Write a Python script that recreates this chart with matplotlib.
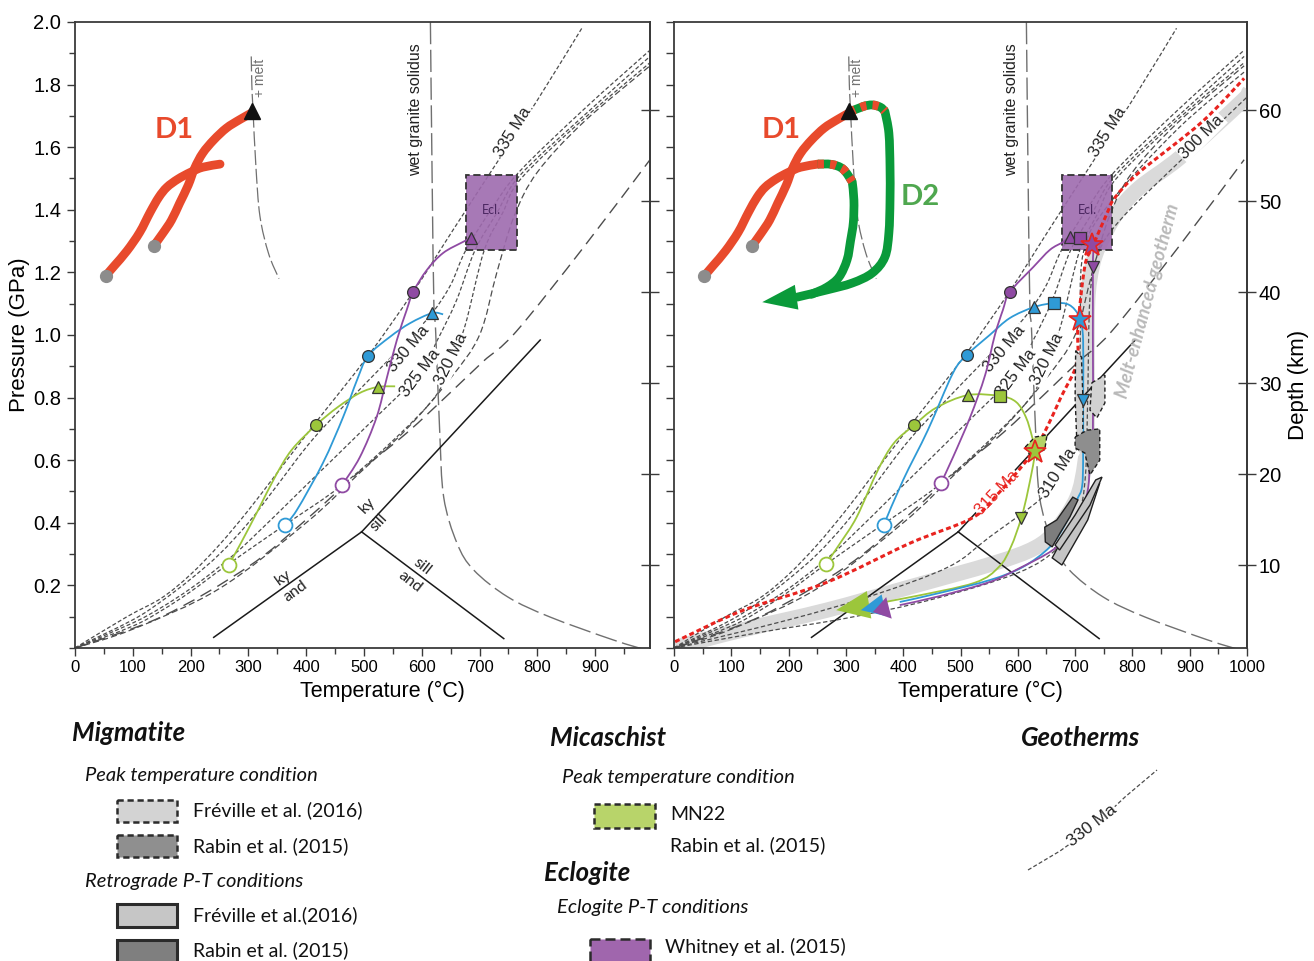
from __future__ import annotations

import matplotlib

matplotlib.use("Agg")
import matplotlib.pyplot as plt
from matplotlib.colors import to_rgba
from matplotlib.patches import PathPatch, Polygon, Rectangle
from matplotlib.path import Path
from matplotlib.ticker import MultipleLocator


plt.rcParams["font.family"] = ["Liberation Sans", "DejaVu Sans"]
TEXT_FONT = ["Lato", "DejaVu Sans"]

OUTPUT_PATH = "out.png"

# --- geotherms: temperature (°C) / pressure (GPa) ---
GEO335_T = [0, 90, 150, 200, 250, 300, 350, 413, 507, 585, 654, 716, 800, 877]
GEO335_P = [0, 0.10, 0.16, 0.235, 0.33, 0.44, 0.56, 0.712, 0.933, 1.137, 1.335, 1.511, 1.75, 1.98]
GEO330_T = [0, 100, 150, 200, 250, 300, 350, 413, 500, 574, 618, 650, 676, 720, 768, 880, 995]
GEO330_P = [0, 0.09, 0.15, 0.22, 0.30, 0.40, 0.52, 0.67, 0.84, 0.98, 1.07, 1.16, 1.27, 1.40, 1.52, 1.72, 1.91]
GEO325_T = [0, 100, 150, 200, 250, 300, 400, 500, 595, 626, 660, 692, 730, 770, 880, 995]
GEO325_P = [0, 0.08, 0.13, 0.19, 0.26, 0.34, 0.52, 0.70, 0.875, 0.98, 1.11, 1.27, 1.39, 1.51, 1.70, 1.89]
GEO320_T = [0, 100, 150, 200, 263, 363, 462, 560, 626, 651, 675, 708, 740, 772, 880, 995]
GEO320_P = [0, 0.07, 0.12, 0.18, 0.265, 0.393, 0.52, 0.68, 0.81, 0.92, 1.03, 1.27, 1.39, 1.50, 1.69, 1.87]
GEO_LOW_T = [0, 100, 250, 400, 493, 574, 649, 700, 730, 760, 800, 880, 995]
GEO_LOW_P = [0, 0.06, 0.19, 0.40, 0.56, 0.70, 0.86, 1.00, 1.20, 1.38, 1.52, 1.68, 1.86]
GEO_LONG_T = [0, 150, 300, 400, 493, 574, 649, 706, 763, 880, 995]
GEO_LONG_P = [0, 0.10, 0.26, 0.41, 0.565, 0.687, 0.815, 0.915, 1.01, 1.28, 1.56]

# right panel only (melt-enhanced geotherms)
GEO315_T = [2, 120, 267, 412, 520, 564, 607, 627, 647, 675, 703, 705, 717, 730, 756, 770, 812, 921, 995]
GEO315_P = [0.02, 0.12, 0.21, 0.335, 0.415, 0.49, 0.58, 0.63, 0.69, 0.80, 0.91, 1.03, 1.22, 1.28, 1.39, 1.44,
            1.52, 1.68, 1.82]
GEO310_T = [0, 200, 350, 480, 551, 642, 670, 690, 705, 709, 714, 760, 880, 995]
GEO310_P = [0, 0.09, 0.17, 0.26, 0.355, 0.48, 0.56, 0.60, 0.67, 0.98, 1.26, 1.42, 1.66, 1.84]
GEO300_T = [0, 150, 300, 450, 600, 670, 705, 718, 722, 726, 740, 780, 880, 1000]
GEO300_P = [0, 0.05, 0.095, 0.155, 0.24, 0.32, 0.42, 0.55, 0.80, 1.12, 1.26, 1.37, 1.55, 1.76]
MELT_BAND_T = [-10, 0, 120, 267, 412, 557, 630, 667, 703, 717, 721, 721, 722, 730, 743, 773, 812, 885, 993, 1005]
MELT_BAND_P = [-0.02, 0.0, 0.058, 0.121, 0.195, 0.27, 0.32, 0.377, 0.48, 0.59, 0.70, 0.91, 1.11, 1.22, 1.29,
               1.39, 1.47, 1.57, 1.75, 1.78]

# reactions
SOLIDUS_T = [615, 618, 621, 624, 631, 638, 661, 690, 749, 822, 931, 995]
SOLIDUS_P = [2.0, 1.5, 1.1, 1.016, 0.696, 0.482, 0.335, 0.249, 0.163, 0.099, 0.026, -0.01]
MELT_IN_T = [305, 306, 308, 313, 320, 335, 353]
MELT_IN_P = [1.89, 1.80, 1.72, 1.54, 1.38, 1.26, 1.18]
KY_SILL_T = [496, 805]
KY_SILL_P = [0.371, 0.984]
KY_AND_T = [496, 240]
KY_AND_P = [0.371, 0.034]
AND_SILL_T = [496, 742]
AND_SILL_P = [0.371, 0.030]

ECL_T = [677, 765]
ECL_P = [1.27, 1.51]

# D1 / D2 paths
D1A_T = [53, 68, 90, 112, 130, 145, 159, 178, 200, 221, 251]
D1A_P = [1.189, 1.221, 1.269, 1.328, 1.392, 1.440, 1.472, 1.498, 1.520, 1.536, 1.546]
D1B_T = [136, 152, 167, 181, 196, 207, 221, 240, 262, 284, 306]
D1B_P = [1.284, 1.325, 1.367, 1.421, 1.479, 1.533, 1.581, 1.623, 1.661, 1.687, 1.710]
D1_PEAK_T = 306
D1_PEAK_P = 1.715
D2_INNER_STRIPE_T = [251, 275, 295, 311]
D2_INNER_STRIPE_P = [1.546, 1.545, 1.53, 1.49]
D2_INNER_T = [311, 314, 313, 308, 302, 288, 267, 240]
D2_INNER_P = [1.49, 1.431, 1.36, 1.30, 1.24, 1.185, 1.153, 1.13]
D2_OUTER_STRIPE_T = [306, 330, 346, 360, 368]
D2_OUTER_STRIPE_P = [1.712, 1.73, 1.735, 1.728, 1.715]
D2_OUTER_T = [368, 375, 377, 377, 375, 368, 346, 311, 267, 215, 154]
D2_OUTER_P = [1.715, 1.645, 1.537, 1.431, 1.326, 1.249, 1.198, 1.166, 1.144, 1.121, 1.105]

# sample P-T paths, left panel (prograde)
L_GREEN_T = [266, 287, 317, 346, 375, 417, 455, 493, 524, 554]
L_GREEN_P = [0.265, 0.335, 0.441, 0.546, 0.633, 0.712, 0.77, 0.815, 0.834, 0.836]
L_BLUE_T = [363, 384, 429, 464, 488, 507, 545, 580, 618, 637]
L_BLUE_P = [0.393, 0.441, 0.591, 0.738, 0.856, 0.933, 0.994, 1.038, 1.07, 1.066]
L_PURPLE_T = [462, 493, 522, 540, 557, 574, 585, 609, 637, 671, 685]
L_PURPLE_P = [0.52, 0.61, 0.738, 0.866, 0.984, 1.08, 1.137, 1.208, 1.262, 1.297, 1.31]

# sample P-T paths, right panel (full loops)
R_GREEN_T = [265, 290, 319, 356, 384, 419, 457, 513, 569, 597, 614, 625, 630, 618, 606, 588, 567, 524, 414, 340, 283]
R_GREEN_P = [0.268, 0.335, 0.419, 0.569, 0.655, 0.712, 0.767, 0.808, 0.805, 0.786, 0.738, 0.674, 0.626, 0.505,
             0.415, 0.323, 0.259, 0.208, 0.163, 0.138, 0.121]
R_BLUE_T = [366, 400, 443, 487, 511, 551, 586, 628, 663, 686, 700, 709, 714, 714, 714, 712, 703, 682, 656, 609,
            551, 464, 394, 326]
R_BLUE_P = [0.393, 0.537, 0.696, 0.879, 0.936, 1.0, 1.054, 1.089, 1.102, 1.099, 1.08, 1.048, 0.984, 0.792, 0.60,
            0.514, 0.473, 0.393, 0.323, 0.259, 0.217, 0.176, 0.147, 0.121]
R_PURPLE_T = [466, 487, 517, 543, 560, 574, 586, 627, 656, 679, 691, 709, 730, 731, 731, 731, 726, 723, 714, 696,
              661, 604, 551, 464, 394, 347]
R_PURPLE_P = [0.527, 0.61, 0.738, 0.872, 1.0, 1.08, 1.137, 1.217, 1.272, 1.297, 1.313, 1.31, 1.288, 1.217, 1.006,
              0.665, 0.60, 0.514, 0.45, 0.377, 0.313, 0.256, 0.211, 0.166, 0.137, 0.115]

# marker kind -> index in the path
L_GREEN_MARKS = [("open", 0), ("circle", 5), ("tri", 8)]
L_BLUE_MARKS = [("open", 0), ("circle", 5), ("tri", 8)]
L_PURPLE_MARKS = [("open", 0), ("circle", 6), ("tri", 10)]
R_GREEN_MARKS = [("open", 0), ("circle", 5), ("tri", 7), ("square", 8), ("star", 12), ("dtri", 14)]
R_BLUE_MARKS = [("open", 0), ("circle", 4), ("tri", 7), ("square", 8), ("star", 11), ("dtri", 13)]
R_PURPLE_MARKS = [("open", 0), ("circle", 6), ("tri", 10), ("square", 11), ("star", 12), ("dtri", 13)]

# migmatite / micaschist P-T fields (right panel)
MIG_PEAK_FREVILLE = [[(729, 0.847), (752, 0.872), (752, 0.783), (738, 0.735), (726, 0.76)],
                     [(701, 0.95), (711, 0.93), (714, 0.78), (713, 0.66), (703, 0.66), (700, 0.80)]]
MIG_PEAK_RABIN = [[(700, 0.674), (721, 0.696), (743, 0.70), (743, 0.60), (726, 0.553), (717, 0.623), (700, 0.639)]]
MIG_RETRO_FREVILLE = [[(660, 0.288), (677, 0.265), (722, 0.409), (743, 0.527), (731, 0.511), (691, 0.393)],
                      [(665, 0.329), (673, 0.313), (726, 0.457), (747, 0.546), (736, 0.537), (700, 0.425)]]
MIG_RETRO_RABIN = [[(647, 0.386), (668, 0.409), (696, 0.482), (705, 0.473), (691, 0.419), (674, 0.368),
                    (660, 0.323), (648, 0.339)]]
MICASCHIST_PEAK = [[(613, 0.642), (630, 0.674), (651, 0.681), (647, 0.633), (621, 0.617)]]

# colours
GEO_GREY = "#4d4d4d"
SPINE = "#3a3a3a"
RED = "#e8231f"
D1_RED = "#e84a2c"
D2_GREEN = "#0a9a3a"
D2_TEXT = "#4fa74f"
GREEN = "#9cc63b"
BLUE = "#2f9ad6"
PURPLE = "#8f4aa3"
ECL_PURPLE = "#9e6aae"
BAND_GREY = "#dadada"


def p_to_depth(p):
    return p * 34.4 + 0.88


def depth_to_p(d):
    return (d - 0.88) / 34.4


def smooth_curve(ax, temps, press, **style):
    # Catmull-Rom style Bezier through the read points
    pts = list(zip(temps, press))
    verts = [pts[0]]
    codes = [Path.MOVETO]
    n = len(pts)
    for i in range(n - 1):
        x0, y0 = pts[max(i - 1, 0)]
        x1, y1 = pts[i]
        x2, y2 = pts[i + 1]
        x3, y3 = pts[min(i + 2, n - 1)]
        verts += [(x1 + (x2 - x0) / 6, y1 + (y2 - y0) / 6), (x2 - (x3 - x1) / 6, y2 - (y3 - y1) / 6), (x2, y2)]
        codes += [Path.CURVE4] * 3
    patch = PathPatch(Path(verts, codes), fill=False, **style)
    ax.add_patch(patch)
    return patch


def style_axes(ax, xmax, left_labels):
    ax.set_xlim(0, xmax)
    ax.set_ylim(0, 2.0)
    ax.xaxis.set_major_locator(MultipleLocator(100))
    ax.xaxis.set_minor_locator(MultipleLocator(50))
    if left_labels:
        ax.set_yticks([0.2, 0.4, 0.6, 0.8, 1.0, 1.2, 1.4, 1.6, 1.8, 2.0])
        ax.yaxis.set_minor_locator(MultipleLocator(0.1))
    else:
        ax.yaxis.set_major_locator(MultipleLocator(0.1))
        ax.tick_params(axis="y", labelleft=False)
    ax.tick_params(which="major", length=6, width=1.0, color=SPINE)
    ax.tick_params(which="minor", length=4, width=1.0, color=SPINE)
    ax.tick_params(axis="y", labelsize=14.5, pad=4)
    ax.tick_params(axis="x", labelsize=12, pad=3)
    for spine in ax.spines.values():
        spine.set_color(SPINE)
        spine.set_linewidth(1.3)
    ax.set_xlabel("Temperature (°C)", fontsize=15.5)
    ax.xaxis.set_label_coords(0.534, -0.052)

    depth = ax.secondary_yaxis("right", functions=(p_to_depth, depth_to_p))
    depth.set_yticks([10, 20, 30, 40, 50, 60])
    depth.tick_params(direction="inout", length=13, width=1.0, color=SPINE, labelsize=14.5, pad=2)
    depth.spines["right"].set_color(SPINE)
    depth.spines["right"].set_linewidth(1.3)
    return depth


def geo_label(ax, text, t, p, angle, color="#222222", size=12):
    ax.text(t, p, text, rotation=angle, ha="center", va="center", fontsize=size, color=color,
            rotation_mode="anchor", zorder=3,
            bbox=dict(boxstyle="square,pad=0.05", facecolor="white", edgecolor="none"))


def draw_base(ax):
    short_dash = (0, (3.2, 1.8))
    for temps, press in [(GEO335_T, GEO335_P), (GEO330_T, GEO330_P), (GEO325_T, GEO325_P), (GEO320_T, GEO320_P)]:
        smooth_curve(ax, temps, press, edgecolor=GEO_GREY, linewidth=0.9, linestyle=short_dash, zorder=2)
    smooth_curve(ax, GEO_LOW_T, GEO_LOW_P, edgecolor=GEO_GREY, linewidth=0.9, linestyle=(0, (5, 2.5)), zorder=2)
    smooth_curve(ax, GEO_LONG_T, GEO_LONG_P, edgecolor=GEO_GREY, linewidth=1.0, linestyle=(0, (9, 5)), zorder=2)
    smooth_curve(ax, SOLIDUS_T, SOLIDUS_P, edgecolor="#707070", linewidth=1.0, linestyle=(0, (16, 4)), zorder=2)
    smooth_curve(ax, MELT_IN_T, MELT_IN_P, edgecolor="#707070", linewidth=0.9, linestyle=(0, (12, 3)), zorder=2)
    for temps, press in [(KY_SILL_T, KY_SILL_P), (KY_AND_T, KY_AND_P), (AND_SILL_T, AND_SILL_P)]:
        ax.plot(temps, press, color="#1a1a1a", lw=1.1, zorder=2)

    ax.add_patch(Rectangle((ECL_T[0], ECL_P[0]), ECL_T[1] - ECL_T[0], ECL_P[1] - ECL_P[0],
                           facecolor=to_rgba(ECL_PURPLE, 0.9), edgecolor="#333333",
                           linestyle=(0, (4, 2)), linewidth=1.3, zorder=3))
    ax.text((ECL_T[0] + ECL_T[1]) / 2, 1.40, "Ecl.", ha="center", va="center", fontsize=9,
            color="#4a2660", family=TEXT_FONT, zorder=3.2)

    geo_label(ax, "335 Ma", 758, 1.65, 58)
    geo_label(ax, "330 Ma", 577, 0.955, 50)
    geo_label(ax, "325 Ma", 598, 0.88, 53)
    geo_label(ax, "320 Ma", 651, 0.922, 64)
    ax.text(589, 1.72, "wet granite solidus", rotation=90, ha="center", va="center", fontsize=11.5,
            color="#222222", zorder=3)
    ax.text(320, 1.82, "+ melt", rotation=90, ha="center", va="center", fontsize=10, color="#707070", zorder=3)

    for temps, press in [(D1A_T, D1A_P), (D1B_T, D1B_P)]:
        smooth_curve(ax, temps, press, edgecolor=D1_RED, linewidth=6.3, capstyle="round", zorder=6)
    ax.plot([D1A_T[0], D1B_T[0]], [D1A_P[0], D1B_P[0]], "o", color="#8c8c8c", ms=8.5, zorder=7)
    ax.plot([D1_PEAK_T], [D1_PEAK_P], "^", color="#111111", ms=11, zorder=8)


def draw_sample(ax, temps, press, color, marks, head=None):
    stop = len(temps) if head is None else len(temps) - 1
    smooth_curve(ax, temps[:stop], press[:stop], edgecolor=color, linewidth=1.3, zorder=4)
    styles = {
        "open": dict(marker="o", ms=10, mfc="white", mec=color, mew=1.3),
        "circle": dict(marker="o", ms=8.5, mfc=color, mec="#333333", mew=0.9),
        "tri": dict(marker="^", ms=9, mfc=color, mec="#333333", mew=0.9),
        "square": dict(marker="s", ms=8, mfc=color, mec="#333333", mew=0.9),
        "star": dict(marker="*", ms=17, mfc=color, mec=RED, mew=1.2),
        "dtri": dict(marker="v", ms=8.5, mfc=color, mec="#333333", mew=0.9),
    }
    for kind, index in marks:
        ax.plot([temps[index]], [press[index]], ls="none", zorder=5, **styles[kind])
    if head is not None:
        length, width = head
        ax.annotate("", xy=(temps[-1], press[-1]), xytext=(temps[-2], press[-2]),
                    arrowprops=dict(arrowstyle=f"-|>,head_length={length},head_width={width}",
                                    color=color, lw=0, shrinkA=0, shrinkB=0, mutation_scale=10),
                    zorder=5)


def draw_fields(ax, fields, face, style):
    for vertices in fields:
        ax.add_patch(Polygon(vertices, closed=True, facecolor=face, edgecolor="#1f1f1f",
                             linestyle=style, linewidth=1.0, zorder=4.5))


fig = plt.figure(figsize=(13.14, 9.61), dpi=100)

# legend overlay in pixel coordinates
leg = fig.add_axes([0, 0, 1, 1], zorder=-1)
leg.set_xlim(0, 1314)
leg.set_ylim(961, 0)
leg.axis("off")

ax_l = fig.add_axes([75 / 1314, (961 - 648) / 961, 575 / 1314, 626 / 961])
ax_r = fig.add_axes([674 / 1314, (961 - 648) / 961, 573 / 1314, 626 / 961])

# ---- left panel ----
depth_l = style_axes(ax_l, 995, True)
depth_l.tick_params(labelright=False)
ax_l.set_ylabel("Pressure (GPa)", fontsize=16)
ax_l.yaxis.set_label_coords(-0.078, 0.5)
draw_base(ax_l)
ax_l.text(172, 1.655, "D1", color=D1_RED, fontsize=21, fontweight="bold", family=TEXT_FONT,
          ha="center", va="center", zorder=7)
for text, t, p, angle in [("ky", 506, 0.455, 47), ("sill", 526, 0.40, 47), ("ky", 360, 0.225, 36),
                          ("and", 382, 0.182, 36), ("sill", 600, 0.26, -38), ("and", 580, 0.21, -38)]:
    ax_l.text(t, p, text, rotation=angle, ha="center", va="center", fontsize=11.5, color="#222222",
              family=TEXT_FONT, zorder=3)
draw_sample(ax_l, L_GREEN_T, L_GREEN_P, GREEN, L_GREEN_MARKS)
draw_sample(ax_l, L_BLUE_T, L_BLUE_P, BLUE, L_BLUE_MARKS)
draw_sample(ax_l, L_PURPLE_T, L_PURPLE_P, PURPLE, L_PURPLE_MARKS)

# ---- right panel ----
depth_r = style_axes(ax_r, 1000, False)
depth_r.set_ylabel("Depth (km)", fontsize=16)
depth_r.yaxis.set_label_coords(1.072, 0.42, transform=ax_r.transAxes)
smooth_curve(ax_r, MELT_BAND_T, MELT_BAND_P, edgecolor=BAND_GREY, linewidth=11, capstyle="butt", zorder=1)
draw_base(ax_r)
smooth_curve(ax_r, GEO310_T, GEO310_P, edgecolor=GEO_GREY, linewidth=0.9, linestyle=(0, (3.5, 2)), zorder=2)
smooth_curve(ax_r, GEO300_T, GEO300_P, edgecolor=GEO_GREY, linewidth=0.9, linestyle=(0, (3.5, 2)), zorder=2)
smooth_curve(ax_r, GEO315_T, GEO315_P, edgecolor=RED, linewidth=2.2, linestyle=(0, (1.6, 1.0)), zorder=3.5)
geo_label(ax_r, "315 Ma", 564, 0.495, 46, color=RED)
geo_label(ax_r, "310 Ma", 670, 0.56, 58)
geo_label(ax_r, "300 Ma", 921, 1.633, 45)
ax_r.text(826, 1.11, "Melt-enhanced geotherm", rotation=75, ha="center", va="center", fontsize=13.5,
          color="#b9b9b9", fontweight="bold", style="italic", family=TEXT_FONT, zorder=3)

draw_fields(ax_r, MIG_PEAK_FREVILLE, "#d2d2d2", (0, (3, 2)))
draw_fields(ax_r, MIG_PEAK_RABIN, "#8e8e8e", (0, (3, 2)))
draw_fields(ax_r, MIG_RETRO_FREVILLE, "#c4c4c4", "solid")
draw_fields(ax_r, MIG_RETRO_RABIN, "#7d7d7d", "solid")
draw_fields(ax_r, MICASCHIST_PEAK, "#b4d266", (0, (3, 2)))

draw_sample(ax_r, R_GREEN_T, R_GREEN_P, GREEN, R_GREEN_MARKS, head=(2.4, 1.0))
draw_sample(ax_r, R_BLUE_T, R_BLUE_P, BLUE, R_BLUE_MARKS, head=(1.7, 0.8))
draw_sample(ax_r, R_PURPLE_T, R_PURPLE_P, PURPLE, R_PURPLE_MARKS, head=(1.2, 0.8))

stripe = (0, (0.7, 0.7))
for temps, press in [(D2_INNER_STRIPE_T, D2_INNER_STRIPE_P), (D2_OUTER_STRIPE_T, D2_OUTER_STRIPE_P)]:
    smooth_curve(ax_r, temps, press, edgecolor=D2_GREEN, linewidth=6.3, capstyle="butt", zorder=6)
    smooth_curve(ax_r, temps, press, edgecolor=D1_RED, linewidth=6.3, linestyle=stripe, capstyle="butt",
                 zorder=6.1)
smooth_curve(ax_r, D2_INNER_T, D2_INNER_P, edgecolor=D2_GREEN, linewidth=6.3, capstyle="round", zorder=6)
smooth_curve(ax_r, D2_OUTER_T[:-1], D2_OUTER_P[:-1], edgecolor=D2_GREEN, linewidth=6.3, capstyle="round",
             zorder=6)
ax_r.annotate("", xy=(D2_OUTER_T[-1], D2_OUTER_P[-1]), xytext=(D2_OUTER_T[-2], D2_OUTER_P[-2]),
              arrowprops=dict(arrowstyle="-|>,head_length=2.5,head_width=0.9", color=D2_GREEN, lw=0,
                              shrinkA=0, shrinkB=0, mutation_scale=10), zorder=6)
ax_r.text(187, 1.655, "D1", color=D1_RED, fontsize=21, fontweight="bold", family=TEXT_FONT,
          ha="center", va="center", zorder=7)
ax_r.text(430, 1.44, "D2", color=D2_TEXT, fontsize=21, fontweight="bold", family=TEXT_FONT,
          ha="center", va="center", zorder=7)


# ---- legend ----
def leg_text(x, y, text, size=14, **kw):
    leg.text(x, y, text, fontsize=size, family=TEXT_FONT, ha="left", va="center", color="#111111", **kw)


def leg_box(x0, y0, x1, y1, face, style, lw=1.8):
    leg.add_patch(Rectangle((x0, y0), x1 - x0, y1 - y0, facecolor=face, edgecolor="#2b2b2b",
                            linestyle=style, linewidth=lw))


heading = dict(size=18.5, fontweight="bold", style="italic")
sub = dict(size=14.5, style="italic")
leg_text(72, 733, "Migmatite", **heading)
leg_text(85, 776, "Peak temperature condition", **sub)
leg_box(117, 800, 177, 822, "#d3d3d3", (0, (2.5, 1.5)))
leg_text(193, 810, "Fréville et al. (2016)")
leg_box(117, 835, 177, 857, "#8f8f8f", (0, (2.5, 1.5)))
leg_text(193, 846, "Rabin et al. (2015)")
leg_text(85, 881, "Retrograde P-T conditions", **sub)
leg_box(117, 904, 177, 927, "#c6c6c6", "solid", lw=2.2)
leg_text(193, 915, "Fréville et al.(2016)")
leg_box(117, 940, 177, 965, "#7f7f7f", "solid", lw=2.2)
leg_text(193, 950, "Rabin et al. (2015)")

leg_text(550, 738, "Micaschist", **heading)
leg_text(562, 777, "Peak temperature condition", **sub)
leg_box(594, 804, 655, 828, "#b8d46a", (0, (2.5, 1.5)))
leg_text(670, 815, "MN22")
leg_text(670, 845, "Rabin et al. (2015)")
leg_text(544, 873, "Eclogite", **heading)
leg_text(557, 907, "Eclogite P-T conditions", **sub)
leg_box(590, 939, 650, 965, "#a066ad", (0, (4, 2)))
leg_text(665, 947, "Whitney et al. (2015)")

leg_text(1021, 738, "Geotherms", **heading)
leg.plot([1028, 1060, 1092, 1125, 1157], [870, 851, 828, 797, 770], color=GEO_GREY, lw=0.9,
         ls=(0, (3.2, 1.8)))
leg.text(1092, 826, "330 Ma", rotation=38, ha="center", va="center", fontsize=12.5, color="#222222",
         rotation_mode="anchor", bbox=dict(boxstyle="square,pad=0.05", facecolor="white", edgecolor="none"))

fig.savefig(OUTPUT_PATH, dpi=100)
plt.close(fig)
